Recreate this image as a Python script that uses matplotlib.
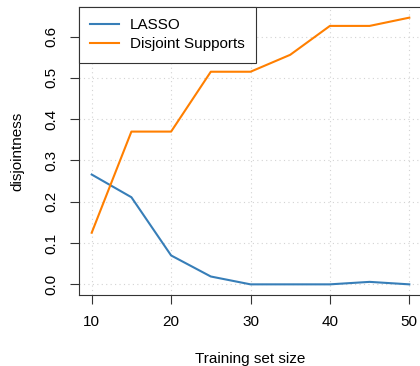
import matplotlib
matplotlib.use("Agg")
import matplotlib.pyplot as plt

# --- Data ---
train_size = [10, 15, 20, 25, 30, 35, 40, 45, 50]
lasso = [0.266, 0.211, 0.070, 0.019, 0.0, 0.0, 0.0, 0.006, 0.0]
disjoint = [0.125, 0.370, 0.370, 0.515, 0.515, 0.556, 0.626, 0.626, 0.646]
x_ticks = [10, 20, 30, 40, 50]
y_ticks = [0.0, 0.1, 0.2, 0.3, 0.4, 0.5, 0.6]

plt.rcParams['font.family'] = ['Liberation Sans', 'DejaVu Sans']
FS = 11

fig = plt.figure(figsize=(4.2, 3.66), dpi=100)
ax = fig.add_axes([79 / 420, 71 / 366, 343 / 420, 288 / 366])

ax.plot(train_size, lasso, color='#377eb8', lw=1.5, label='LASSO')
ax.plot(train_size, disjoint, color='#ff7f00', lw=1.5, label='Disjoint Supports')

# R-style 4% padding
ax.set_xlim(8.4, 51.6)
ax.set_ylim(-0.0258, 0.6718)

ax.set_xticks(x_ticks)
ax.set_yticks(y_ticks)
ax.set_xticklabels([str(t) for t in x_ticks], fontsize=FS)
ax.set_yticklabels([f"{t:.1f}" for t in y_ticks], fontsize=FS, rotation=90, va='center')
ax.tick_params(direction='out', length=6.5, width=0.8, color='#333333', pad=8)

ax.grid(True, color='#d3d3d3', linestyle=(0, (1, 3)), lw=0.8)
for s in ax.spines.values():
    s.set_color('#333333')
    s.set_linewidth(0.8)

ax.set_xlabel('Training set size', fontsize=FS, labelpad=16.5)
ax.set_ylabel('disjointness', fontsize=FS, labelpad=15)

leg = ax.legend(loc='upper left', fontsize=FS, fancybox=False, framealpha=1,
                edgecolor='#333333', borderaxespad=0, handlelength=1.85,
                handletextpad=0.75, borderpad=0.75, labelspacing=0.3)
leg.get_frame().set_linewidth(0.8)

fig.savefig('out.png', dpi=100)
